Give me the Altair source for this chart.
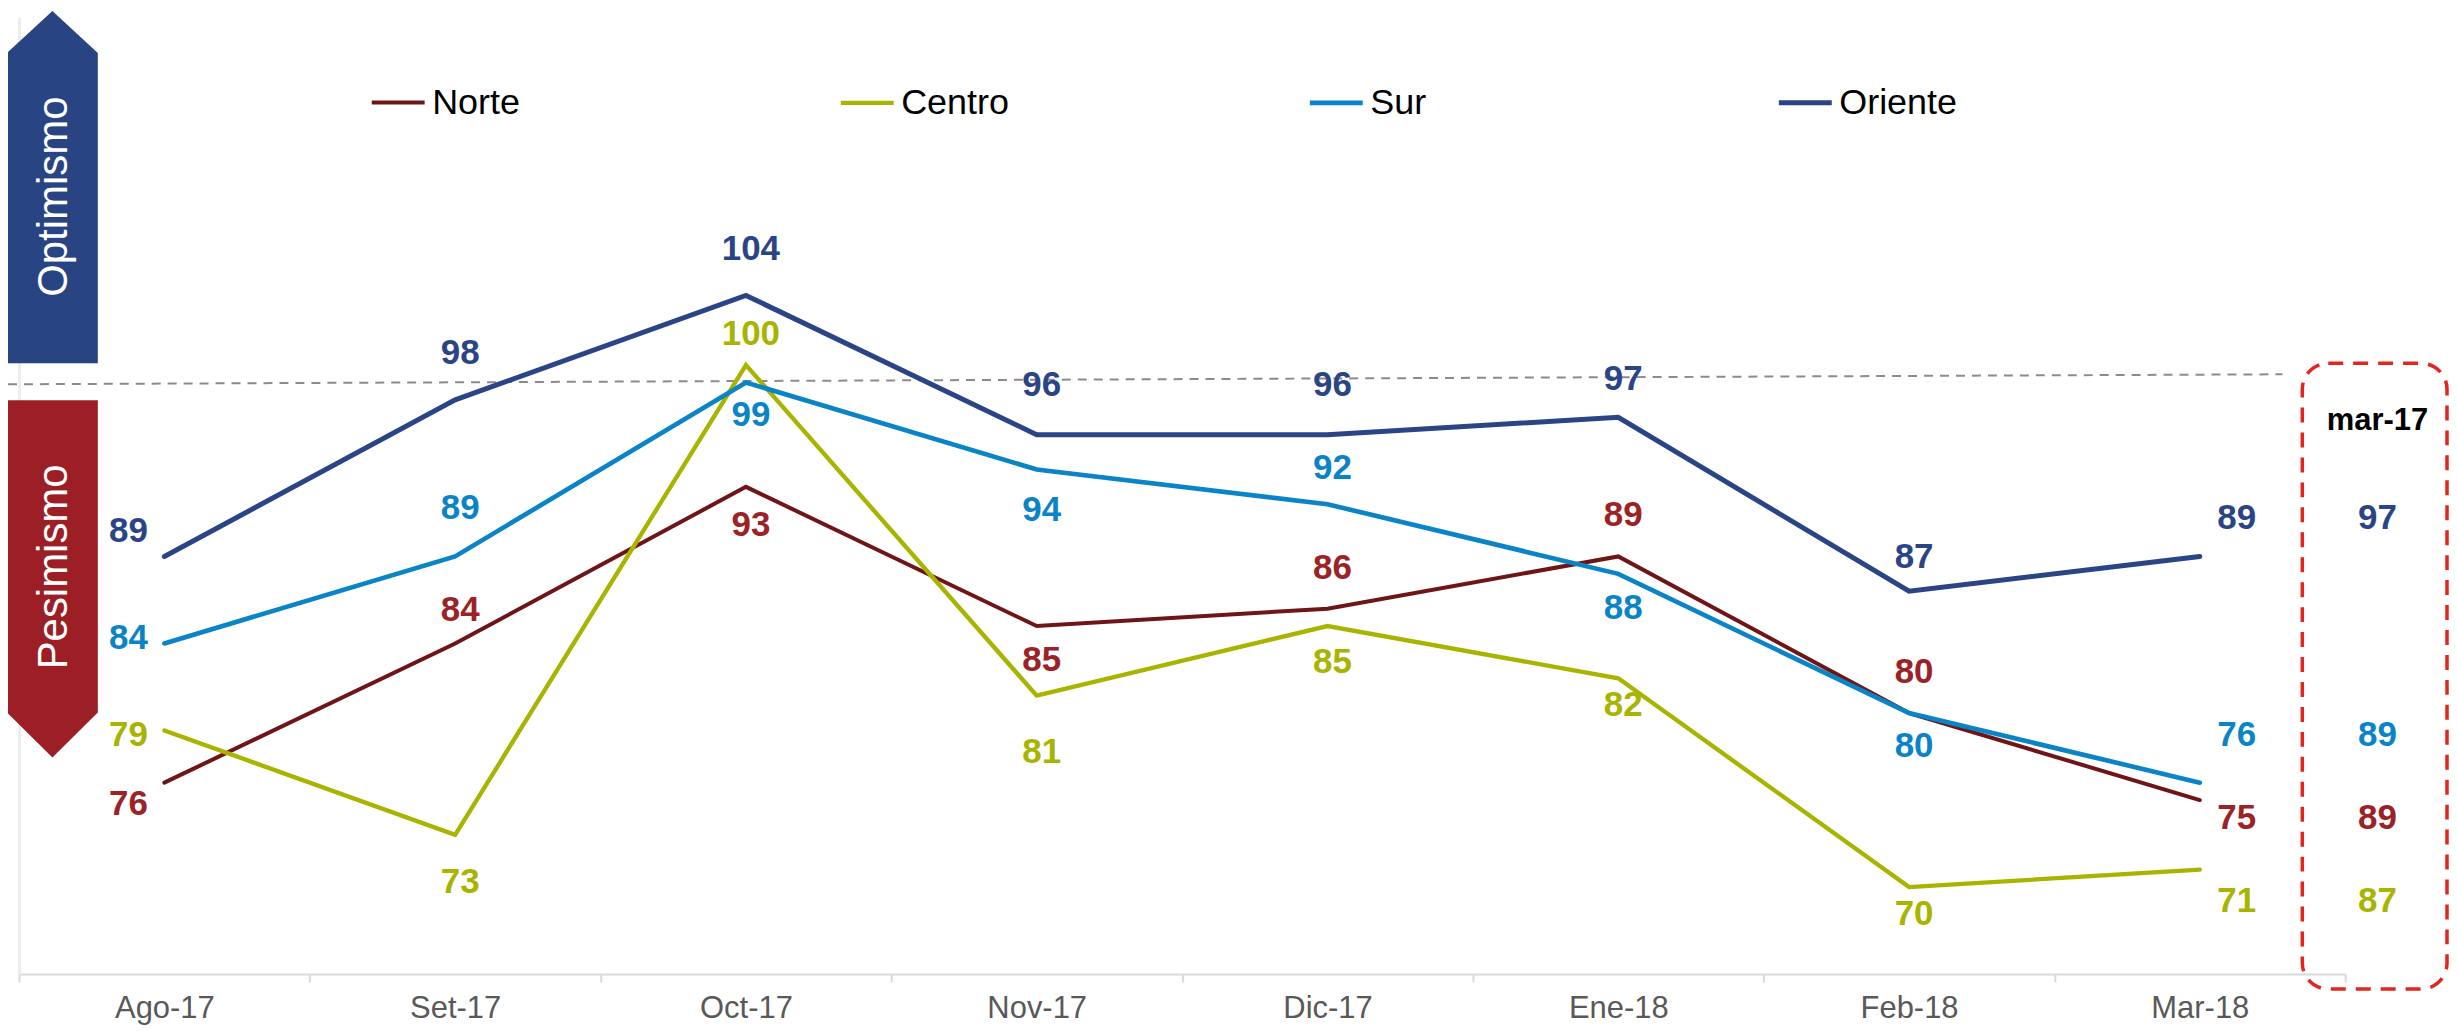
import altair as alt
import pandas as pd

# ---------------- data ----------------
months = ["Ago-17", "Set-17", "Oct-17", "Nov-17", "Dic-17", "Ene-18", "Feb-18", "Mar-18"]
series = ["Norte", "Centro", "Sur", "Oriente"]

norte = [76, 84, 93, 85, 86, 89, 80, 75]
centro = [79, 73, 100, 81, 85, 82, 70, 71]
sur = [84, 89, 99, 94, 92, 88, 80, 76]
oriente = [89, 98, 104, 96, 96, 97, 87, 89]

ref_header = "mar-17"
ref_norte = 89
ref_centro = 87
ref_sur = 89
ref_oriente = 97

# label placement: vertical offset (px) of each value label from its point (neg = above)
norte_label_dy = [21, -33, 38, 34, -41, -42, -41, 18]
centro_label_dy = [5, 47, -31, 56, 36, 27, 27, 31]
sur_label_dy = [-5, -49, 33, 41, -36, 34, 33, -48]
oriente_label_dy = [-25, -47, -47, -50, -50, -38, -34, -39]

# ---------------- styling ----------------
line_colors = ["#6E1518", "#A8B400", "#0A84C6", "#2A4485"]
label_colors = ["#9B2226", "#A8B400", "#0A84C6", "#2A4485"]
line_widths = [4, 5, 5, 4.5]
FONT = "Liberation Sans, Arial, sans-serif"

Y_MIN, Y_MAX = 65, 120
PLOT_W, PLOT_H = 2331, 959
PPU = PLOT_H / (Y_MAX - Y_MIN)

values = {"Norte": norte, "Centro": centro, "Sur": sur, "Oriente": oriente}
dys = {"Norte": norte_label_dy, "Centro": centro_label_dy, "Sur": sur_label_dy, "Oriente": oriente_label_dy}
refs = {"Norte": ref_norte, "Centro": ref_centro, "Sur": ref_sur, "Oriente": ref_oriente}

rows = []
for s in series:
    for j, m in enumerate(months):
        v = values[s][j]
        rows.append({"series": s, "month": m, "value": v,
                     "label_y": v - dys[s][j] / PPU})
df = pd.DataFrame(rows)

ref_rows = []
for s in series:
    last = df[(df.series == s) & (df.month == months[-1])].iloc[0]
    ref_rows.append({"series": s, "month": months[-1], "value": refs[s], "label_y": last["label_y"]})
df_ref = pd.DataFrame(ref_rows)

one = pd.DataFrame({"k": [0]})

x_enc = alt.X("month:N", sort=months,
              scale=alt.Scale(type="band", domain=months, paddingInner=0, paddingOuter=0),
              axis=alt.Axis(title="", tickBand="extent", domainColor="#D9D9D9", domainWidth=2,
                            tickColor="#D9D9D9", tickWidth=2, tickSize=8, labelPadding=12,
                            labelFont=FONT, labelFontSize=31, labelColor="#595959",
                            labelAngle=0, grid=False))
y_scale = alt.Scale(domain=[Y_MIN, Y_MAX], nice=False, zero=False)

lines = alt.Chart(df).mark_line(strokeCap="round").encode(
    x=x_enc,
    y=alt.Y("value:Q", scale=y_scale,
            axis=alt.Axis(title="", labels=False, ticks=False, grid=False,
                          domainColor="#EDEDED", domainWidth=3)),
    color=alt.Color("series:N", sort=series,
                    scale=alt.Scale(domain=series, range=line_colors),
                    legend=alt.Legend(title=None, orient="none", legendX=351, legendY=57,
                                      direction="horizontal", columns=4, gridAlign="all",
                                      columnPadding=280, symbolType="stroke", symbolSize=2809,
                                      symbolStrokeWidth=6, labelFont=FONT, labelFontSize=36,
                                      labelColor="black", labelOffset=5, labelLimit=0,
                                      padding=0)),
    strokeWidth=alt.StrokeWidth("series:N", scale=alt.Scale(domain=series, range=line_widths),
                                legend=None),
)


def value_text(data, dx, flt=None):
    ch = alt.Chart(data)
    if flt is not None:
        ch = ch.transform_filter(flt)
    return ch.mark_text(font=FONT, fontSize=35, fontWeight="bold", dx=dx, baseline="middle").encode(
        x=alt.X("month:N", sort=months),
        y=alt.Y("label_y:Q", scale=y_scale),
        text=alt.Text("value:Q"),
        color=alt.Color("series:N", scale=alt.Scale(domain=series, range=label_colors), legend=None),
    )


t_first = value_text(df, -36, f"datum.month == '{months[0]}'")
t_mid = value_text(df, 5, f"datum.month != '{months[0]}' && datum.month != '{months[-1]}'")
t_last = value_text(df, 37, f"datum.month == '{months[-1]}'")
t_ref = value_text(df_ref, 178)

ref_head = alt.Chart(pd.DataFrame({"month": [months[-1]], "txt": [ref_header]})).mark_text(
    font=FONT, fontSize=31, fontWeight="bold", color="black", dx=178, baseline="middle"
).encode(x=alt.X("month:N", sort=months), y=alt.value(405), text="txt:N")

# decorations
threshold = alt.Chart(one).mark_rule(color="#8F8A8A", strokeDash=[9, 7], strokeWidth=2).encode(
    x=alt.value(-11), x2=alt.value(2268), y=alt.value(368), y2=alt.value(358))

ref_box = alt.Chart(one).mark_rect(fillOpacity=0, stroke="#E0261E", strokeWidth=3.5,
                                   strokeDash=[15, 10], cornerRadius=26).encode(
    x=alt.value(2288), x2=alt.value(2433), y=alt.value(347), y2=alt.value(974))

opt_arrow = alt.Chart(one).mark_point(
    shape="M -45.5 -134 L 0 -176 L 45.5 -134 L 45.5 177 L -45.5 177 Z",
    size=4, filled=True, color="#284482", opacity=1, strokeWidth=0).encode(
    x=alt.value(33.5), y=alt.value(170))
pes_arrow = alt.Chart(one).mark_point(
    shape="M -45.5 -179 L 45.5 -179 L 45.5 134 L 0 179 L -45.5 134 Z",
    size=4, filled=True, color="#9B1F24", opacity=1, strokeWidth=0).encode(
    x=alt.value(33.5), y=alt.value(563))
opt_text = alt.Chart(pd.DataFrame({"t": ["Optimismo"]})).mark_text(
    font=FONT, fontSize=42, color="white", angle=270, baseline="middle", align="center").encode(
    x=alt.value(35), y=alt.value(180), text="t:N")
pes_text = alt.Chart(pd.DataFrame({"t": ["Pesimismo"]})).mark_text(
    font=FONT, fontSize=42, color="white", angle=270, baseline="middle", align="center").encode(
    x=alt.value(35), y=alt.value(551), text="t:N")

chart = alt.layer(
    threshold, opt_arrow, pes_arrow, opt_text, pes_text, ref_box,
    lines, t_first, t_mid, t_last, t_ref, ref_head
).resolve_scale(color="independent", strokeWidth="independent").properties(
    width=PLOT_W, height=PLOT_H,
    autosize=alt.AutoSizeParams(type="none"),
    padding={"left": 11, "top": 8, "right": 105, "bottom": 50},
).configure_view(strokeWidth=0)

chart.save("out.html", embed_options={"renderer": "svg", "actions": False})
